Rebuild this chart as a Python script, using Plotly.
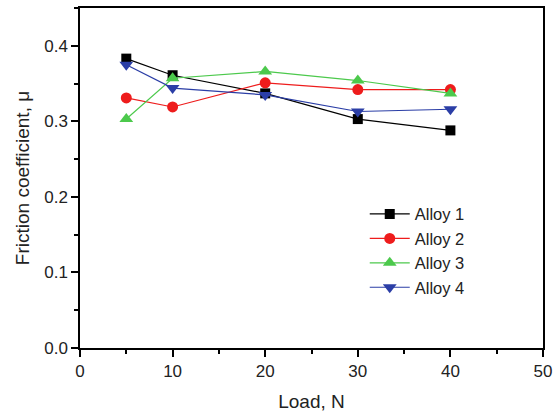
import plotly.graph_objects as go

load = [5, 10, 20, 30, 40]
alloy1 = [0.383, 0.361, 0.337, 0.303, 0.288]
alloy2 = [0.331, 0.319, 0.351, 0.342, 0.342]
alloy3 = [0.303, 0.357, 0.366, 0.354, 0.337]
alloy4 = [0.375, 0.344, 0.335, 0.313, 0.316]

series = [
    ("Alloy 1", alloy1, "#000000", "square", 10),
    ("Alloy 2", alloy2, "#ee1c1c", "circle", 11),
    ("Alloy 3", alloy3, "#4cc94c", "triangle-up", 12),
    ("Alloy 4", alloy4, "#2b3ea6", "triangle-down", 12),
]

FONT = "Liberation Sans, Arial"

fig = go.Figure()
for name, ys, col, sym, sz in series:
    fig.add_trace(go.Scatter(
        x=load, y=ys, name=name, mode="lines+markers",
        line=dict(color=col, width=1.2),
        marker=dict(symbol=sym, size=sz, color=col),
    ))

axis_common = dict(
    showline=True, linecolor="black", linewidth=1.5, mirror=True,
    ticks="outside", ticklen=7, tickwidth=1.5, tickcolor="black",
    showgrid=False, zeroline=False, automargin=False,
    tickfont=dict(family=FONT, size=17, color="#222"),
)

fig.update_xaxes(range=[0, 50], dtick=10,
                 minor=dict(dtick=5, ticks="outside", ticklen=4, tickwidth=1.5, tickcolor="black"),
                 title=dict(text="Load, N", font=dict(family=FONT, size=19, color="#222"), standoff=15),
                 **axis_common)
fig.update_yaxes(range=[0, 0.45], dtick=0.1, tickformat=".1f",
                 minor=dict(dtick=0.05, ticks="outside", ticklen=4, tickwidth=1.5, tickcolor="black"),
                 title=dict(text="Friction coefficient, μ", font=dict(family=FONT, size=19, color="#222"), standoff=10),
                 **axis_common)

fig.update_layout(
    width=556, height=414,
    margin=dict(l=80, r=13, t=8, b=66),
    plot_bgcolor="white", paper_bgcolor="white",
    legend=dict(x=0.615, y=0.445, xanchor="left", yanchor="top",
                bgcolor="rgba(0,0,0,0)",
                font=dict(family=FONT, size=16.5, color="#222"),
                tracegroupgap=0, itemwidth=40),
)

fig.write_html("out.html", config={"displayModeBar": False},
               post_script="document.body.style.margin='0';document.body.style.overflow='hidden';")
